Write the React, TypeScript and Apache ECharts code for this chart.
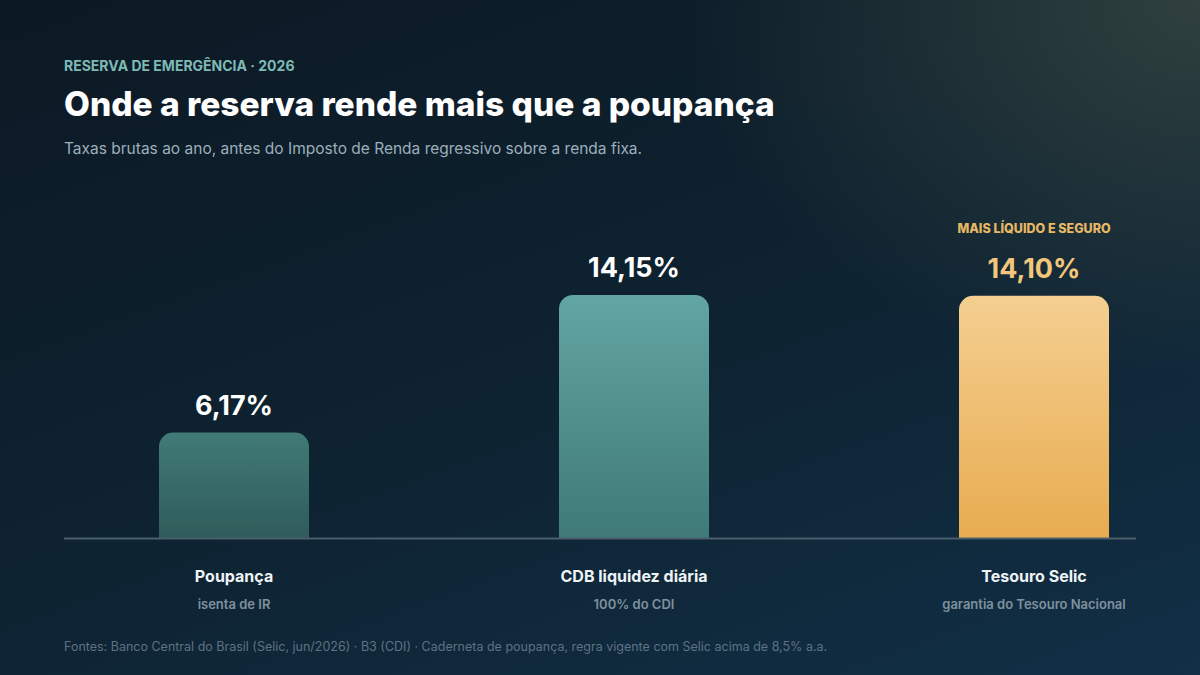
import React, { useEffect, useRef } from "react";
import * as echarts from "echarts";

// Investment options and their gross annual rates (%)
const categories = ["Poupança", "CDB liquidez diária", "Tesouro Selic"];
const subtitles = ["isenta de IR", "100% do CDI", "garantia do Tesouro Nacional"];
const rates = [6.17, 14.15, 14.1];
const highlightIndex = 2;
const highlightTag = "MAIS LÍQUIDO E SEGURO";

const FONT = "Inter, 'Noto Sans', sans-serif";

const fmt = (v: number) => v.toFixed(2).replace(".", ",") + "%";

const barGradients = [
  ["#417a76", "#2f5c5a"],
  ["#62a5a2", "#3f7a78"],
  ["#f4cf91", "#e8ac50"],
];

export default function App() {
  const ref = useRef<HTMLDivElement>(null);

  useEffect(() => {
    if (!ref.current) return;
    const chart = echarts.init(ref.current, null, { renderer: "svg" });

    const data = rates.map((v, i) => {
      const [top, bottom] = barGradients[i];
      const isHi = i === highlightIndex;
      return {
        value: v,
        itemStyle: {
          color: new echarts.graphic.LinearGradient(0, 0, 0, 1, [
            { offset: 0, color: top },
            { offset: 1, color: bottom },
          ]),
          borderRadius: [14, 14, 0, 0],
        },
        label: {
          show: true,
          position: "top",
          distance: 10,
          formatter: isHi
            ? `{tag|${highlightTag}}\n{valHi|${fmt(v)}}`
            : `{val|${fmt(v)}}`,
          rich: {
            tag: {
              fontFamily: FONT,
              fontSize: 12.5,
              fontWeight: 800,
              color: "#e9b865",
              lineHeight: 16,
              padding: [0, 0, 31, 0],
            },
            val: {
              fontFamily: FONT,
              fontSize: 27,
              fontWeight: 700,
              color: "#ffffff",
              lineHeight: 34,
            },
            valHi: {
              fontFamily: FONT,
              fontSize: 27,
              fontWeight: 700,
              color: "#f3c67c",
              lineHeight: 34,
            },
          },
        },
      };
    });

    chart.setOption({
      animation: false,
      backgroundColor: "transparent",
      title: [
        {
          text: "{e|RESERVA DE EMERGÊNCIA · 2026}",
          left: 64,
          top: 58,
          padding: 0,
          textStyle: {
            rich: {
              e: {
                fontFamily: FONT,
                fontSize: 14,
                fontWeight: 700,
                color: "#7dbab5",
                letterSpacing: 2.3,
              },
            },
          },
        },
        {
          text: "Onde a reserva rende mais que a poupança",
          left: 64,
          top: 87,
          padding: 0,
          textStyle: {
            fontFamily: FONT,
            fontSize: 33.5,
            fontWeight: 800,
            color: "#ffffff",
          },
        },
        {
          text: "Taxas brutas ao ano, antes do Imposto de Renda regressivo sobre a renda fixa.",
          left: 64,
          top: 140,
          padding: 0,
          textStyle: {
            fontFamily: FONT,
            fontSize: 15.5,
            fontWeight: 400,
            color: "#9cafbc",
          },
        },
        {
          text: "Fontes: Banco Central do Brasil (Selic, jun/2026) · B3 (CDI) · Caderneta de poupança, regra vigente com Selic acima de 8,5% a.a.",
          left: 64,
          top: 640,
          padding: 0,
          textStyle: {
            fontFamily: FONT,
            fontSize: 12.5,
            fontWeight: 400,
            color: "#5d7383",
          },
        },
      ],
      grid: {
        left: 34,
        width: 1200,
        top: 263,
        bottom: 136,
        outerBoundsMode: "none",
        containLabel: false,
      },
      xAxis: {
        type: "category",
        data: categories,
        axisLine: { show: false },
        axisTick: { show: false },
        axisLabel: {
          margin: 23,
          formatter: (val: string, idx: number) =>
            `{name|${val}}\n{sub|${subtitles[idx]}}`,
          rich: {
            name: {
              fontFamily: FONT,
              fontSize: 16,
              fontWeight: 700,
              color: "#eef3f6",
              lineHeight: 28,
            },
            sub: {
              fontFamily: FONT,
              fontSize: 13,
              fontWeight: 600,
              color: "#7f919e",
              lineHeight: 28,
            },
          },
        },
      },
      yAxis: {
        type: "value",
        min: 0,
        max: 16,
        show: false,
        splitLine: { show: false },
      },
      series: [
        {
          type: "bar",
          data,
          barWidth: 150,
          z: 3,
        },
      ],
      graphic: [
        {
          type: "line",
          shape: { x1: 64, y1: 538.5, x2: 1136, y2: 538.5 },
          style: { stroke: "#4a5f6c", lineWidth: 2 },
          z: 10,
        },
      ],
    });

    return () => chart.dispose();
  }, []);

  return (
    <div
      style={{
        position: "absolute",
        left: 0,
        top: 0,
        width: 1200,
        height: 675,
        background:
          "radial-gradient(ellipse 520px 380px at 1200px 0px, rgba(62,78,70,0.7), rgba(40,60,60,0) 100%), linear-gradient(160deg, #0c1924 0%, #0e2230 50%, #112f46 100%)",
      }}
    >
      <div ref={ref} style={{ width: 1200, height: 675 }} />
    </div>
  );
}
